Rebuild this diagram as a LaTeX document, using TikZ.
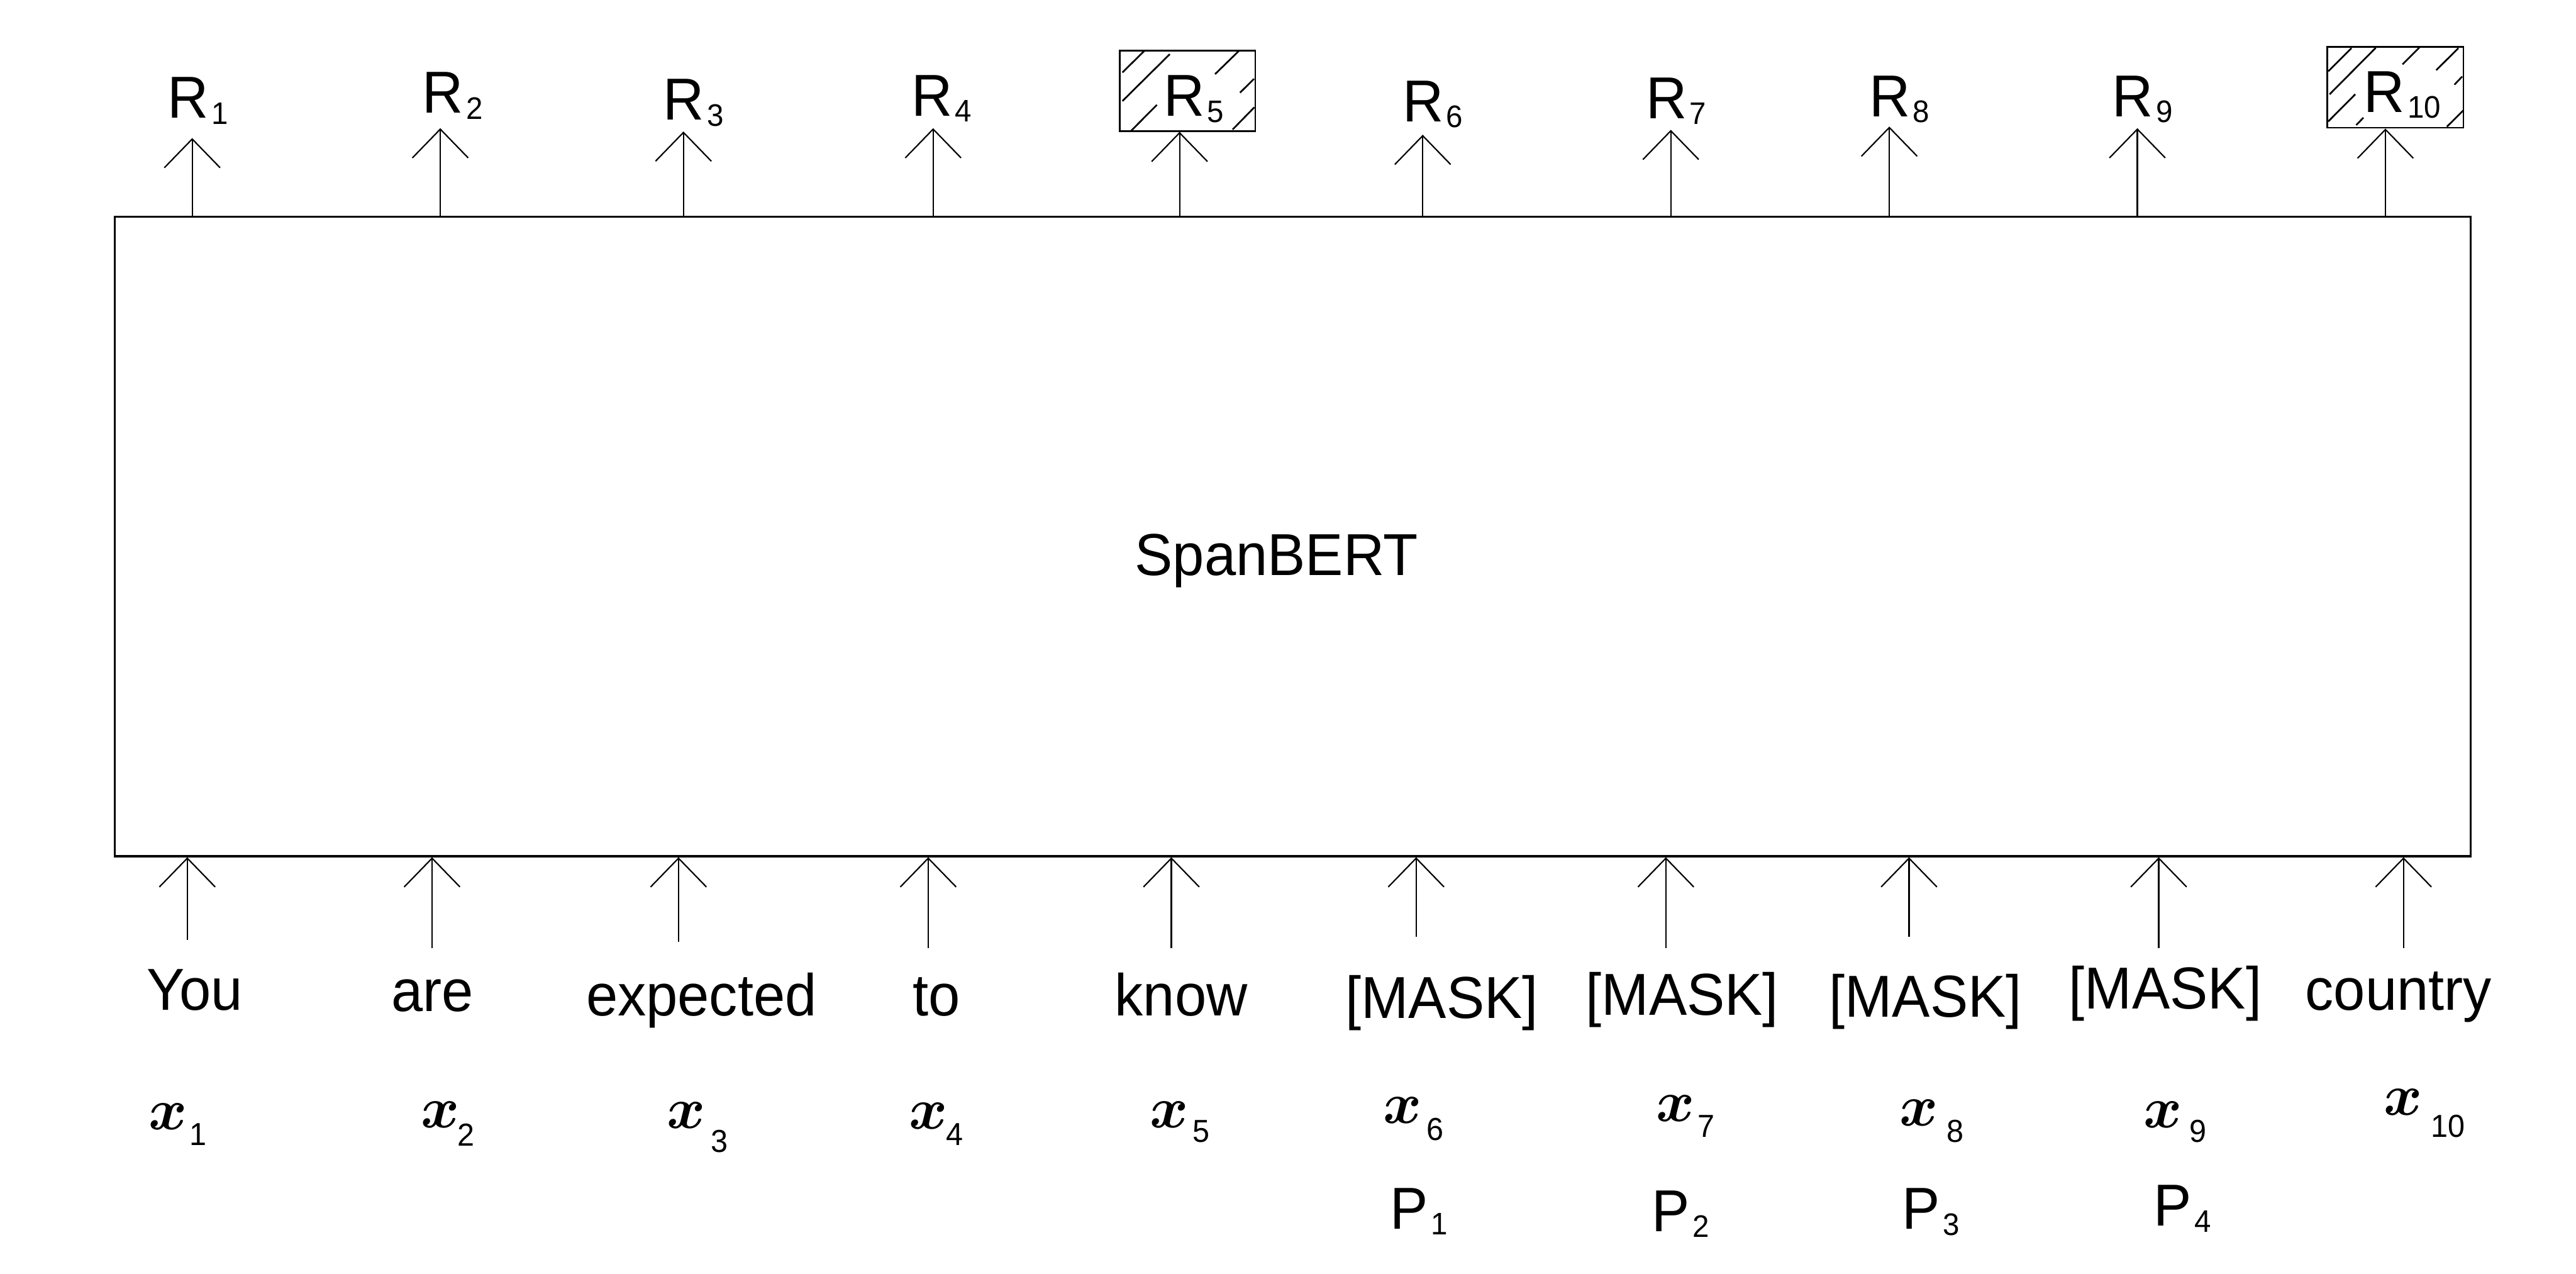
\documentclass[tikz,border=0pt]{standalone}
\usepackage{amsmath}
\usepackage{fontspec}
\setmainfont{Liberation Sans}[FakeStretch=0.96]
\usetikzlibrary{arrows.meta,fit}
\newcommand\lsub[1]{\kern0.8pt\raisebox{-1.75pt}{\fontsize{9.2}{9.2}\selectfont #1}}
\tikzset{
  lbl/.style={inner sep=0pt, font=\fontsize{17.5}{20}\selectfont, anchor=base west},
  word/.style={inner sep=0pt, font=\fontsize{17.5}{20}\selectfont, anchor=base},
  xg/.style={inner sep=0pt, font=\fontsize{17}{19}\selectfont, anchor=base},
  xs/.style={inner sep=0pt, font=\fontsize{9.4}{10}\selectfont, anchor=base},
  up/.style={draw, line width=0.4pt, -{Straight Barb[length=8.5pt,width=16.5pt]}},
  hatchbox/.style={draw, line width=0.5pt, inner sep=0pt},
  hatch/.style={line width=0.5pt},
  bertbox/.style={draw, line width=0.6pt, inner sep=0pt}
}
\begin{document}
\begin{tikzpicture}[x=0.4858pt,y=-0.4858pt]
\useasboundingbox (0,0) rectangle (1568,775);

% main box
\coordinate (bl) at (70,132);
\coordinate (br) at (1504,521);
\node[bertbox, fit=(bl)(br)] (bert) {};
\node[word] (span) at (777,350) {SpanBERT};

% hatched output boxes
\coordinate (h5a) at (681.6,30.7);
\coordinate (h5b) at (764.1,79.7);
\node[hatchbox, fit=(h5a)(h5b)] (R5box) {};
\coordinate (h10a) at (1416.7,28.5);
\coordinate (h10b) at (1499.5,77.7);
\node[hatchbox, fit=(h10a)(h10b)] (R10box) {};
\draw[hatch]
  (683.2,44.1) -- (696.8,30.7)
  (683.2,61.5) -- (712.0,33.0)
  (688.4,79.7) -- (704.2,63.8)
  (739.6,45.1) -- (754.0,31.1)
  (754.8,56.4) -- (763.3,48.0)
  (750.3,78.8) -- (763.5,65.3);
\draw[hatch]
  (1417.2,43.4) -- (1431.3,29.3)
  (1418.0,57.4) -- (1446.1,29.1)
  (1417.2,73.9) -- (1433.6,57.4)
  (1434.2,76.1) -- (1438.6,71.6)
  (1462.4,39.2) -- (1472.6,29.0)
  (1482.9,42.7) -- (1496.4,29.3)
  (1494.0,51.5) -- (1498.7,46.6)
  (1489.4,77.1) -- (1499.5,67.1);

% output labels
\foreach \i/\lx/\by in {1/104.3/71.9, 2/259.4/68.8, 3/406/73, 4/557/70.5, 6/856/74, 7/1004/72, 8/1140/71, 9/1288/71}
  \node[lbl] (R\i) at (\lx-2.6,\by) {R\lsub{\i}};
\node[lbl] (R5) at (710.5-2.6,70.8) {R\lsub{5}};
\node[lbl] (R10) at (1441.1-2.6,68.2) {R\lsub{10}};

% top arrows
\foreach \i/\ax/\ty in {1/117/84, 2/268/78, 3/416/80, 4/568/78, 6/866/82, 7/1017/79, 8/1150/77, 9/1301/78} {
  \coordinate (ta\i) at (\ax,132);
  \coordinate (tt\i) at (\ax,\ty);
  \draw[up] (ta\i) -- (tt\i);
}
\coordinate (ta5) at (718,132);
\draw[up] (ta5) -- (ta5 |- R5box.south);
\coordinate (ta10) at (1452,132);
\draw[up] (ta10) -- (ta10 |- R10box.south);

% bottom arrows
\foreach \i/\ax/\ty in {1/114/572, 2/263/577, 3/413/573, 4/565/577, 5/713/577, 6/862/570, 7/1014/577, 8/1162/570, 9/1314/577, 10/1463/577} {
  \coordinate (ba\i) at (\ax,\ty);
  \draw[up] (ba\i) -- (ba\i |- bert.south);
}

% input words
\node[word] (w1) at (118.5,614.5) {You};
\node[word] (w2) at (263.3,615.5) {are};
\node[word] (w3) at (427,618) {expected};
\node[word] (w4) at (570,618) {to};
\node[word] (w5) at (719,618) {know};
\node[word] (w6) at (877.6,619.6) {[MASK]};
\node[word] (w7) at (1024,617.8) {[MASK]};
\node[word] (w8) at (1172,619) {[MASK]};
\node[word] (w9) at (1318,614) {[MASK]};
\node[word] (w10) at (1460,614.5) {country};

% x labels
\foreach \i/\gx/\gy/\sx/\sy in {1/102.4/687.2/120.6/697.1, 2/267.9/686.3/283.5/697.2, 3/417.7/686.5/438/701.3, 4/565/687/581/697, 5/711.5/686/731/695, 6/853.8/683.6/873.7/693.7, 7/1019.7/682.2/1038.5/692, 8/1168/685/1190/695, 9/1316.5/686/1338/695, 10/1462.6/678.4/1490.1/692.1} {
  \node[xg] (x\i) at (\gx,\gy) {$\boldsymbol{x}$};
  \node[xs] (xs\i) at (\sx,\sy) {\i};
}

% position labels
\node[lbl] (P1) at (848.3-2.5,747.8) {P\lsub{1}};
\node[lbl] (P2) at (1007.6-2.5,749.3) {P\lsub{2}};
\node[lbl] (P3) at (1160-2.5,748) {P\lsub{3}};
\node[lbl] (P4) at (1313-2.5,746) {P\lsub{4}};
\end{tikzpicture}
\end{document}
